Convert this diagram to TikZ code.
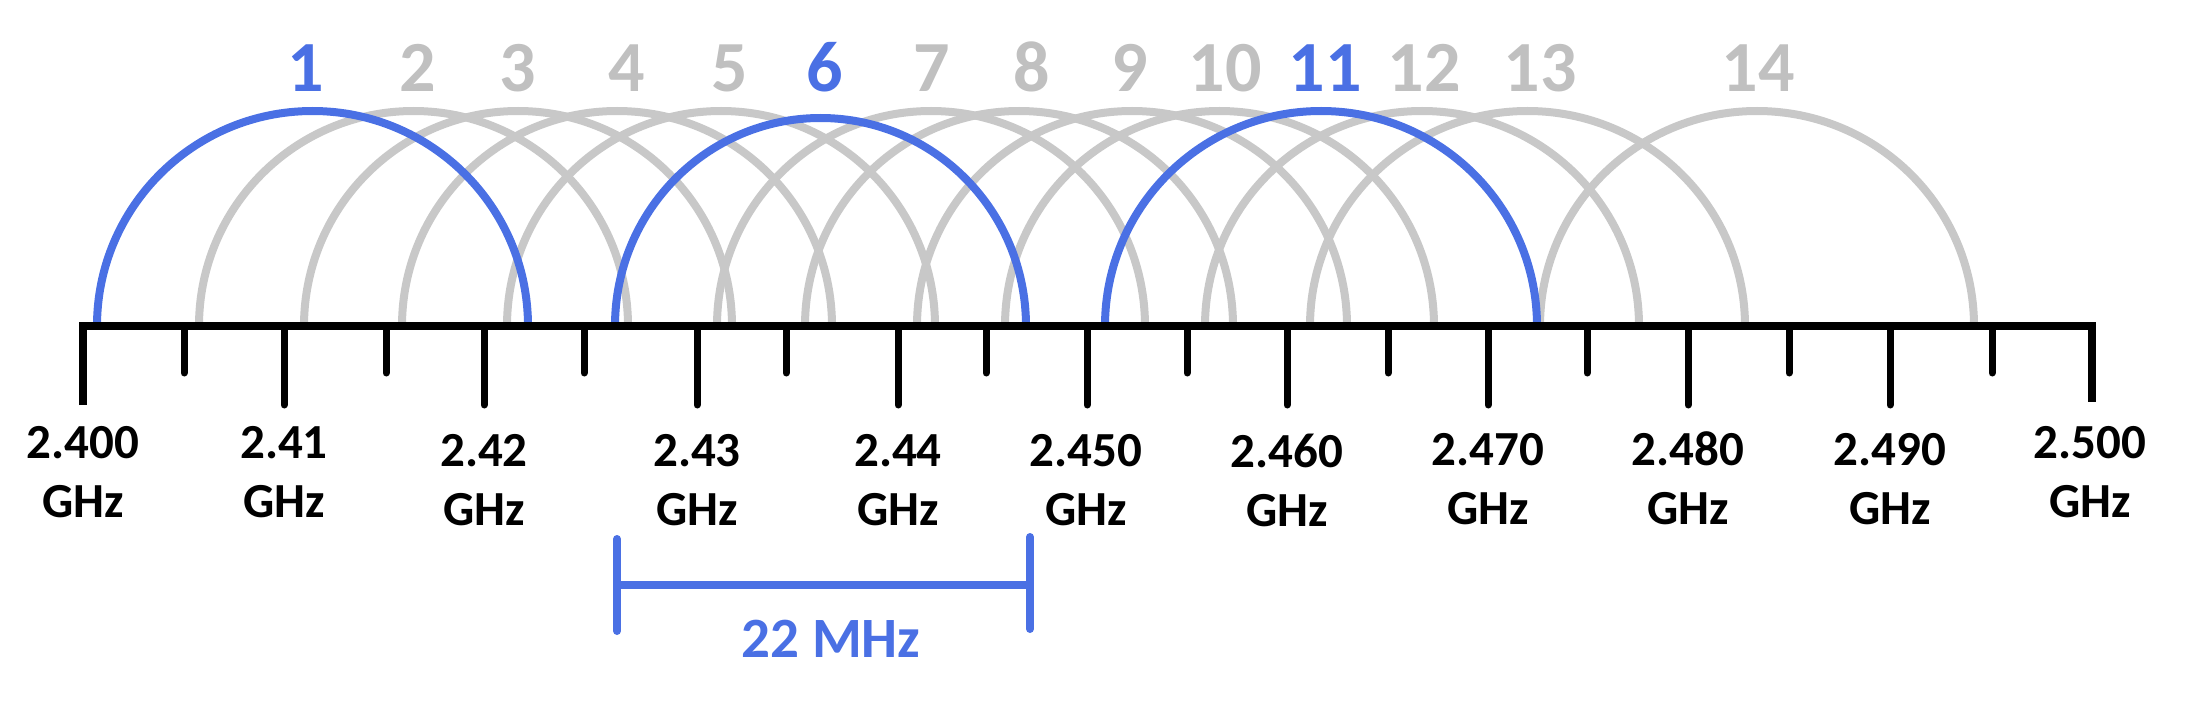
\documentclass[tikz,border=0pt]{standalone}
\usepackage{fontspec}
\setmainfont{Carlito}
\definecolor{chblue}{RGB}{74,112,228}
\definecolor{chgray}{RGB}{200,200,200}
\definecolor{lblgray}{RGB}{192,192,192}
\begin{document}
\begin{tikzpicture}[x=1pt,y=-1pt,
  arcgray/.style={draw=chgray,line width=8pt},
  arcblue/.style={draw=chblue,line width=8pt},
  axisline/.style={draw=black,line width=8pt,line join=miter},
  tickmark/.style={draw=black,line width=7pt,line cap=round},
  chlabel/.style={font=\fontsize{72}{72}\selectfont\bfseries,anchor=base,inner sep=0pt},
  freqlabel/.style={font=\fontsize{49}{59}\selectfont\bfseries,align=center,anchor=base,inner sep=0pt},
  bracket/.style={draw=chblue,line width=8pt,line cap=round}]
\useasboundingbox (0,0) rectangle (2185,703);
% gray channel arcs: left foot, right foot
\foreach \l/\r in {199/628,304/732,402/832,507/935,717/1145,805/1233,917/1347,1005/1434,1205/1639,1310/1745,1540/1974}{
  \pgfmathsetmacro{\rad}{(\r-\l)/2}
  \draw[arcgray] (\l,326) arc[start angle=180,end angle=0,x radius=\rad,y radius=-215];
}
% blue channel arcs
\draw[arcblue] (97,326) arc[start angle=180,end angle=0,x radius=215.5,y radius=-215];
\draw[arcblue] (615,326) arc[start angle=180,end angle=0,x radius=205.5,y radius=-208];
\draw[arcblue] (1105,326) arc[start angle=180,end angle=0,x radius=216,y radius=-215];
% axis
\coordinate (aL) at (83,326);
\coordinate (aR) at (2092,326);
\draw[axisline] (83,405) -- (aL) -- (aR) -- (2092,402);
\foreach \x in {284,484,697,898,1087,1287,1488,1688,1890}{
  \draw[tickmark] (\x,328) -- (\x,405);
}
\foreach \x in {184,386,584,786,986,1187,1388,1587,1789,1992}{
  \draw[tickmark] (\x,328) -- (\x,373);
}
% channel labels
\foreach \n/\x/\c in {1/306/chblue,2/418/lblgray,3/518/lblgray,4/627/lblgray,5/730/lblgray,6/825/chblue,7/932/lblgray,8/1032/lblgray,9/1130/lblgray,10/1225/lblgray,11/1325/chblue,12/1424/lblgray,13/1540/lblgray,14/1758/lblgray}{
  \node[chlabel,text=\c] (ch\n) at (\x,92) {\n};
}
% frequency labels (anchor base = baseline of the GHz line)
\foreach \t/\x/\y [count=\i] in {2.400/83/517,2.41/284/517,2.42/484/525,2.43/697/525,2.44/898/525,2.450/1086/525,2.460/1287/526,2.470/1488/524,2.480/1688/524,2.490/1890/524,2.500/2090/517}{
  \node[freqlabel] (f\i) at (\x,\y) {\t\\GHz};
}
% 22 MHz bracket
\coordinate (bL1) at (617,539);
\coordinate (bL2) at (617,631);
\coordinate (bR1) at (1030,537);
\coordinate (bR2) at (1030,629);
\coordinate (bLm) at (617,585);
\coordinate (bRm) at (1030,585);
\draw[bracket] (bL1) -- (bL2);
\draw[bracket] (bR1) -- (bR2);
\draw[draw=chblue,line width=8pt] (bLm) -- (bRm);
\node[font=\fontsize{57}{57}\selectfont\bfseries,text=chblue,anchor=base,inner sep=0pt] (mhz) at (831,657) {22 MHz};
\end{tikzpicture}
\end{document}
